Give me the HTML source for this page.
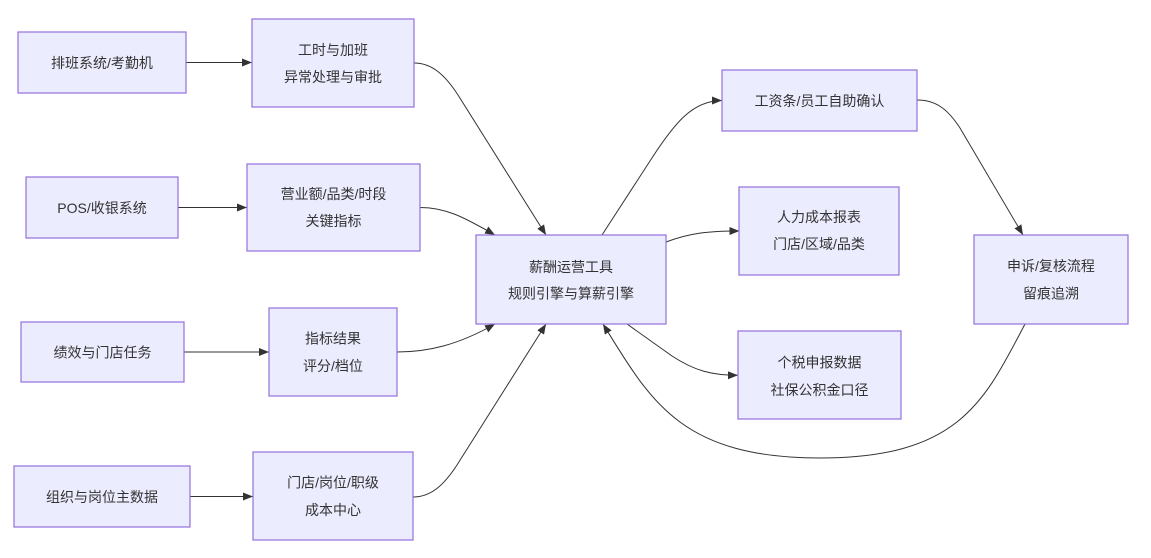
<!DOCTYPE html>
<html>
<head>
<meta charset="utf-8">
<style>
  html, body { margin: 0; padding: 0; background: #ffffff; }
  body { width: 1151px; height: 553px; overflow: hidden; }
  svg text {
    font-family: "Liberation Sans", "Noto Sans CJK SC", "WenQuanYi Zen Hei", sans-serif;
    font-size: 14px;
    fill: #333333;
  }
  .node { fill: #ECECFF; stroke: #9370DB; stroke-width: 1.2; }
  .edge { fill: none; stroke: #333333; stroke-width: 1; }
</style>
</head>
<body>
<svg width="1151" height="553" viewBox="0 0 1151 553" xmlns="http://www.w3.org/2000/svg">
  <defs>
    <marker id="ah" markerUnits="userSpaceOnUse" markerWidth="10" markerHeight="8" viewBox="0 0 10 8" refX="10" refY="4" orient="auto">
      <path d="M0,0 L10,4 L0,8 z" fill="#333333"/>
    </marker>
  </defs>

  <!-- Edges -->
  <path class="edge" d="M186,62.5 L252,62.5" marker-end="url(#ah)"/>
  <path class="edge" d="M178,207.5 L247,207.5" marker-end="url(#ah)"/>
  <path class="edge" d="M184,352 L269,352" marker-end="url(#ah)"/>
  <path class="edge" d="M190,496.5 L253,496.5" marker-end="url(#ah)"/>

  <path class="edge" d="M414,63 C432,63 445,75 458,95 L546,235" marker-end="url(#ah)"/>
  <path class="edge" d="M420,207.5 C445,207.5 462,216 495,235" marker-end="url(#ah)"/>
  <path class="edge" d="M397,352 C428,352 458,345 495,324" marker-end="url(#ah)"/>
  <path class="edge" d="M413,497 C431,497 444,485 457,465 L546,324" marker-end="url(#ah)"/>

  <path class="edge" d="M602,235 L650,161 C675,122 693,100.5 722,100.5" marker-end="url(#ah)"/>
  <path class="edge" d="M666,242 C690,233 708,231 739.5,231" marker-end="url(#ah)"/>
  <path class="edge" d="M627,324 L672,356 C695,371 712,375.3 738,375.3" marker-end="url(#ah)"/>
  <path class="edge" d="M917,100 C935,100 947,108 960,128 L1023,235" marker-end="url(#ah)"/>
  <path class="edge" d="M1025,324 C985,400 960,458 820,458 C680,458 650,400 603,324" marker-end="url(#ah)"/>

  <!-- Nodes -->
  <rect class="node" x="18" y="32" width="168" height="61"/>
  <text x="102" y="63" text-anchor="middle" dominant-baseline="central">排班系统/考勤机</text>

  <rect class="node" x="252" y="19" width="162" height="88"/>
  <text x="333" y="50" text-anchor="middle" dominant-baseline="central">工时与加班</text>
  <text x="333" y="77" text-anchor="middle" dominant-baseline="central">异常处理与审批</text>

  <rect class="node" x="26" y="177" width="152" height="61"/>
  <text x="102" y="208" text-anchor="middle" dominant-baseline="central">POS/收银系统</text>

  <rect class="node" x="247" y="164" width="173" height="87"/>
  <text x="333.5" y="194" text-anchor="middle" dominant-baseline="central">营业额/品类/时段</text>
  <text x="333.5" y="221" text-anchor="middle" dominant-baseline="central">关键指标</text>

  <rect class="node" x="21" y="322" width="163" height="60"/>
  <text x="102.5" y="352.5" text-anchor="middle" dominant-baseline="central">绩效与门店任务</text>

  <rect class="node" x="269" y="308" width="128" height="88"/>
  <text x="333" y="338.5" text-anchor="middle" dominant-baseline="central">指标结果</text>
  <text x="333" y="366" text-anchor="middle" dominant-baseline="central">评分/档位</text>

  <rect class="node" x="14" y="466" width="176" height="61"/>
  <text x="102" y="497" text-anchor="middle" dominant-baseline="central">组织与岗位主数据</text>

  <rect class="node" x="253" y="452" width="160" height="88"/>
  <text x="333" y="482.5" text-anchor="middle" dominant-baseline="central">门店/岗位/职级</text>
  <text x="333" y="510" text-anchor="middle" dominant-baseline="central">成本中心</text>

  <rect class="node" x="476" y="235" width="190" height="89"/>
  <text x="571" y="267" text-anchor="middle" dominant-baseline="central">薪酬运营工具</text>
  <text x="571" y="293.5" text-anchor="middle" dominant-baseline="central">规则引擎与算薪引擎</text>

  <rect class="node" x="722" y="70" width="195" height="61"/>
  <text x="819.5" y="101" text-anchor="middle" dominant-baseline="central">工资条/员工自助确认</text>

  <rect class="node" x="739" y="187" width="160" height="88"/>
  <text x="819" y="217" text-anchor="middle" dominant-baseline="central">人力成本报表</text>
  <text x="819" y="244" text-anchor="middle" dominant-baseline="central">门店/区域/品类</text>

  <rect class="node" x="738" y="331" width="163" height="88"/>
  <text x="819.5" y="362.5" text-anchor="middle" dominant-baseline="central">个税申报数据</text>
  <text x="819.5" y="390" text-anchor="middle" dominant-baseline="central">社保公积金口径</text>

  <rect class="node" x="974" y="235" width="154" height="89"/>
  <text x="1051" y="266" text-anchor="middle" dominant-baseline="central">申诉/复核流程</text>
  <text x="1051" y="293.5" text-anchor="middle" dominant-baseline="central">留痕追溯</text>
</svg>
</body>
</html>
